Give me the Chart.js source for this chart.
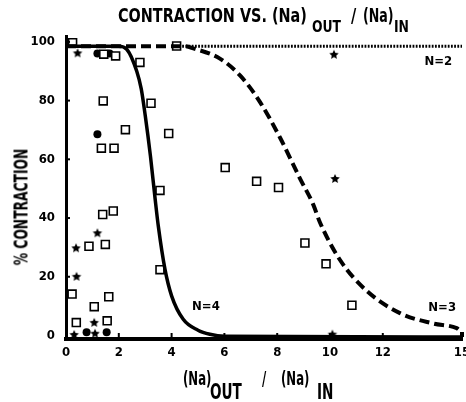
<!DOCTYPE html>
<html>
<head>
<meta charset="utf-8">
<script src="https://cdn.jsdelivr.net/npm/chart.js@4/dist/chart.umd.min.js"></script>
<style>
  body { margin: 0; background: #fff; }
  #wrap { position: relative; width: 466px; height: 402px; overflow: hidden; }
  #chart { position: absolute; left: 0; top: 0; }
  .lbl {
    position: absolute;
    font-family: "DejaVu Sans Condensed", "DejaVu Sans", sans-serif;
    font-weight: bold;
    color: #000;
    white-space: nowrap;
    line-height: 1;
    transform-origin: left top;
  }
  .tmain { top: 5px; font-size: 20px; transform: scaleX(0.8); }
  .tsub { top: 19px; font-size: 16px; transform: scaleX(0.86); }
  .xmain { top: 368px; font-size: 20px; transform: scaleX(0.65); }
  .xsub { top: 382px; font-size: 21px; transform: scaleX(0.72); }
  #ylabel { left: 21px; top: 207px; font-size: 19px; transform-origin: center; transform: translate(-50%, -50%) rotate(-90deg) scaleX(0.72); }
</style>
</head>
<body>
<div id="wrap">
  <canvas id="chart" width="466" height="402"></canvas>
  <div class="lbl tmain" style="left:118px">CONTRACTION VS. (Na)</div>
  <div class="lbl tsub" style="left:312px">OUT</div>
  <div class="lbl tmain" style="left:351px">/</div>
  <div class="lbl tmain" style="left:363px; transform: scaleX(0.7)">(Na)</div>
  <div class="lbl tsub" style="left:394px">IN</div>

  <div class="lbl xmain" style="left:183px">(Na)</div>
  <div class="lbl xsub" style="left:210px">OUT</div>
  <div class="lbl xmain" style="left:262px">/</div>
  <div class="lbl xmain" style="left:281px">(Na)</div>
  <div class="lbl xsub" style="left:317px">IN</div>

  <div class="lbl" id="ylabel">% CONTRACTION</div>
</div>
<script>
// axis ticks
const xTicks = [0, 2, 4, 6, 8, 10, 12, 15];
const yTicks = [0, 20, 40, 60, 80, 100];

// open squares
const squareX = [0.25, 1.43, 1.88, 2.8, 1.41, 3.22, 2.25, 1.34, 1.82, 3.89, 4.19, 6.03, 7.22, 8.05, 3.56, 3.56, 9.05, 9.85, 10.83, 1.39, 1.79, 0.87, 1.49, 0.23, 1.07, 1.62, 0.39, 1.56];
const squareY = [99.7, 95.8, 95.2, 93.0, 79.9, 79.1, 70.1, 63.8, 63.8, 68.8, 98.6, 57.2, 52.5, 50.4, 49.4, 22.4, 31.5, 24.4, 10.3, 41.2, 42.4, 30.4, 31.0, 14.1, 9.8, 13.2, 4.4, 5.0];

// filled stars
const starX = [0.44, 0.38, 1.19, 0.40, 1.07, 0.31, 1.10, 10.15, 10.19, 10.09];
const starY = [96.1, 29.7, 34.8, 20.0, 4.3, 0.2, 0.6, 95.6, 53.3, 0.3];

// filled circles
const dotX = [1.19, 1.65, 1.19, 0.78, 1.54];
const dotY = [96.0, 96.0, 68.5, 1.1, 1.1];

// N=4 solid curve
const steepX = [0, 2.0, 2.3, 2.68, 2.85, 3.0, 3.2, 3.37, 3.5, 3.75, 4.0, 4.44, 5.0, 5.45, 6.0, 15];
const steepY = [98.5, 98.5, 97.5, 90.0, 84, 75, 61, 47, 37, 22.5, 13.5, 5.5, 1.8, 0.4, -0.3, -0.5];

// N=3 dashed curve
const shallowX = [0, 4.5, 4.82, 5.83, 6.6, 7.35, 8.1, 8.86, 9.37, 9.62, 10.38, 11.39, 12.65, 13.9, 14.8, 15.0, 15.0];
const shallowY = [98.5, 98.5, 97.8, 94.3, 88.5, 79.5, 67.5, 53.5, 44.5, 38.5, 25.7, 15.2, 7.6, 4.1, 2.5, 1.3, -0.5];

// N=2 dotted line
const flatX = [4.4, 15];
const flatY = [98.5, 98.5];

const FONT = '"DejaVu Sans Condensed", "DejaVu Sans", sans-serif';

function pts(xs, ys) {
    return xs.map((x, i) => ({ x: x, y: ys[i] }));
}

function makeStar(r) {
    const c = document.createElement('canvas');
    c.width = c.height = 2 * r + 2;
    const g = c.getContext('2d');
    g.beginPath();
    for (let i = 0; i < 10; i++) {
        const a = -Math.PI / 2 + i * Math.PI / 5;
        const rr = i % 2 ? r * 0.47 : r;
        g.lineTo(r + 1 + rr * Math.cos(a), r + 1 + rr * Math.sin(a));
    }
    g.closePath();
    g.fillStyle = '#000';
    g.fill();
    return c;
}

const extras = {
    id: 'extras',
    afterDatasetsDraw(chart) {
        const { ctx, chartArea } = chart;
        const x = chart.scales.x, y = chart.scales.y;
        ctx.save();
        ctx.strokeStyle = '#000';
        ctx.lineWidth = 2;
        xTicks.forEach(v => {
            if (v === 0 || v === 15) return;
            const px = x.getPixelForValue(v);
            ctx.beginPath();
            ctx.moveTo(px, chartArea.bottom);
            ctx.lineTo(px, chartArea.bottom - 6);
            ctx.stroke();
        });
        yTicks.forEach(v => {
            if (v === 0) return;
            const py = y.getPixelForValue(v);
            ctx.beginPath();
            ctx.moveTo(chartArea.left, py);
            ctx.lineTo(chartArea.left + 4, py);
            ctx.stroke();
        });
        ctx.fillStyle = '#000';
        ctx.font = 'bold 13px ' + FONT;
        ctx.textAlign = 'center';
        ctx.textBaseline = 'middle';
        ctx.fillText('N=2', x.getPixelForValue(14.1), y.getPixelForValue(93.2));
        ctx.fillText('N=3', x.getPixelForValue(14.25), y.getPixelForValue(9.4));
        ctx.fillText('N=4', x.getPixelForValue(5.3), y.getPixelForValue(9.7));
        ctx.restore();
    }
};

new Chart(document.getElementById('chart'), {
    type: 'scatter',
    data: {
        datasets: [
            {
                data: pts(flatX, flatY),
                showLine: true, pointRadius: 0,
                borderColor: '#000', borderWidth: 3,
                borderDash: [1.8, 1.4],
                clip: false
            },
            {
                data: pts(shallowX, shallowY),
                showLine: true, pointRadius: 0,
                borderColor: '#000', borderWidth: 4,
                borderDash: [10, 5],
                cubicInterpolationMode: 'monotone',
                clip: false
            },
            {
                data: pts(steepX, steepY),
                showLine: true, pointRadius: 0,
                borderColor: '#000', borderWidth: 3.5,
                cubicInterpolationMode: 'monotone',
                clip: false
            },
            {
                data: pts(squareX, squareY),
                pointStyle: 'rect', pointRadius: 5.6,
                backgroundColor: '#fff', borderColor: '#000', borderWidth: 1.6,
                clip: false
            },
            {
                data: pts(starX, starY),
                pointStyle: makeStar(5),
                clip: false
            },
            {
                data: pts(dotX, dotY),
                pointStyle: 'circle', pointRadius: 4,
                backgroundColor: '#000', borderColor: '#000', borderWidth: 0,
                clip: false
            }
        ]
    },
    options: {
        responsive: false,
        animation: false,
        layout: { autoPadding: false, padding: { top: 36, right: 4, left: 0, bottom: 0 } },
        plugins: {
            legend: { display: false },
            tooltip: { enabled: false }
        },
        scales: {
            x: {
                type: 'linear', min: 0, max: 15,
                afterBuildTicks: s => { s.ticks = xTicks.map(v => ({ value: v })); },
                afterFit: s => { s.height = 63; s.paddingLeft = 0; s.paddingRight = 0; },
                grid: { display: false, drawTicks: false },
                border: { display: true, color: '#000', width: 4 },
                ticks: { color: '#000', padding: 6, font: { family: FONT, weight: 'bold', size: 13 } }
            },
            y: {
                type: 'linear', min: -1.2, max: 102,
                afterBuildTicks: s => { s.ticks = yTicks.map(v => ({ value: v })); },
                afterFit: s => { s.width = 66; },
                grid: { display: false, drawTicks: false },
                border: { display: true, color: '#000', width: 3 },
                ticks: { color: '#000', padding: 11, font: { family: FONT, weight: 'bold', size: 13 } }
            }
        }
    },
    plugins: [extras]
});
</script>
</body>
</html>
